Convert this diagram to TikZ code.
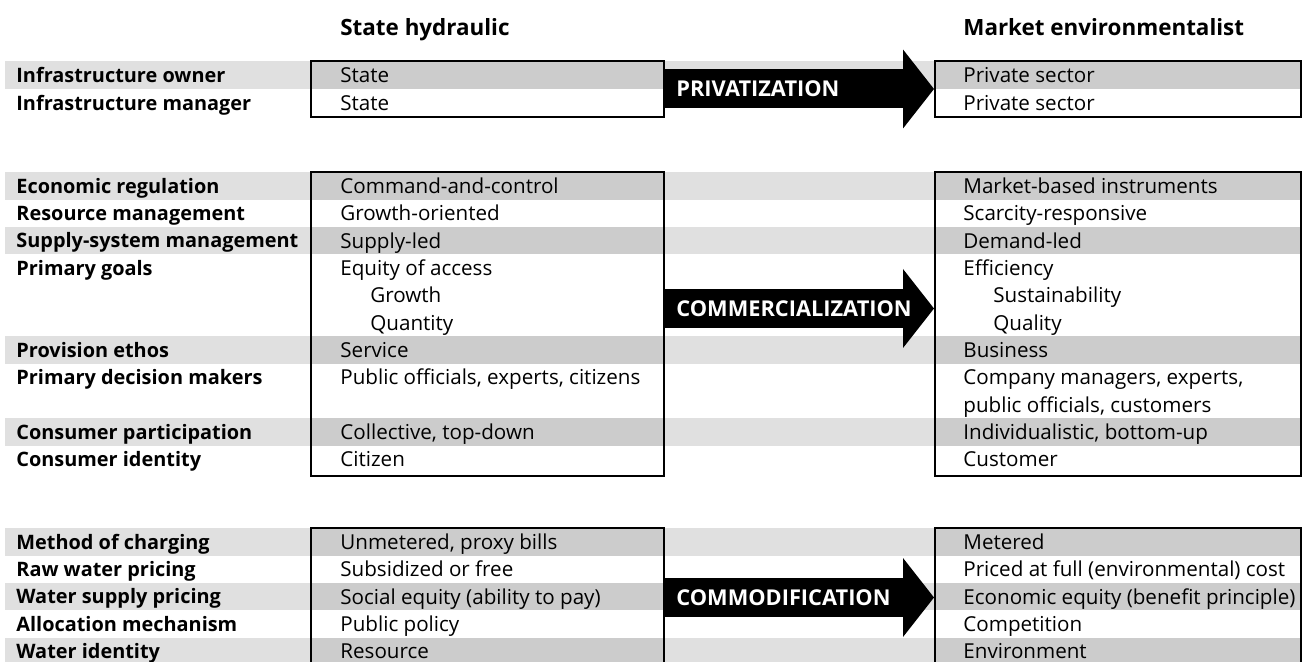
\documentclass[tikz,border=0pt]{standalone}
\usepackage{fontspec}
\setmainfont{Open Sans}
\usetikzlibrary{arrows.meta, fit, positioning}
\definecolor{bandlight}{gray}{0.88}
\definecolor{banddark}{gray}{0.80}
\tikzset{
  rowlbl/.style={anchor=west, inner sep=0pt, text height=7.1pt, text depth=0pt, font=\fontsize{9.95}{12}\selectfont\bfseries},
  cell/.style={anchor=west, inner sep=0pt, text height=7.35pt, text depth=0pt, font=\fontsize{10.3}{12}\selectfont},
  colhead/.style={anchor=west, inner sep=0pt, text height=8pt, text depth=0pt, font=\fontsize{11.2}{13}\selectfont\bfseries},
  tblbox/.style={draw, line width=1pt, inner sep=0pt},
  bigarrow/.style={line width=19.5pt, -{Triangle[line width=0pt, length=15.5pt, width=39.5pt]}},
  arrowlbl/.style={anchor=west, inner sep=0pt, text=white, text height=7.8pt, text depth=0pt, font=\fontsize{10.9}{12}\selectfont\bfseries}
}
\newcommand{\grayrow}[2]{%
  \fill[bandlight] (5,#1) rectangle (1301,#2);
  \fill[banddark] (311,#1) rectangle (664,#2);
  \fill[banddark] (935,#1) rectangle (1301,#2);}

\begin{document}
\begin{tikzpicture}[x=0.5pt, y=-0.5pt]
\useasboundingbox (0,0) rectangle (1306,662);

% shaded rows
\grayrow{61}{89}
\grayrow{172.3}{199.7}
\grayrow{227}{254.4}
\grayrow{336.4}{363.8}
\grayrow{418.5}{445.8}
\grayrow{528.3}{555.7}
\grayrow{583}{610.4}
\grayrow{637.7}{666}

% column heads
\node[colhead] (hstate) at (340,28) {State hydraulic};
\node[colhead] (hmarket) at (963,28) {Market environmentalist};

% boxes
\node[tblbox, fit={(311,61) (664,117)}] (sh1) {};
\node[tblbox, fit={(935,61) (1301,117)}] (me1) {};
\node[tblbox, fit={(311,172.3) (664,476)}] (sh2) {};
\node[tblbox, fit={(935,172.3) (1301,476)}] (me2) {};
\node[tblbox, fit={(311,528.3) (664,680)}] (sh3) {};
\node[tblbox, fit={(935,528.3) (1301,680)}] (me3) {};

% arrows
\coordinate (a1) at (0,89);
\coordinate (a2) at (0,308.5);
\coordinate (a3) at (0,597.5);
\draw[bigarrow] (sh1.east |- a1) -- (me1.west |- a1);
\draw[bigarrow] (sh2.east |- a2) -- (me2.west |- a2);
\draw[bigarrow] (sh3.east |- a3) -- (me3.west |- a3);
\node[arrowlbl] (priv) at ([xshift=5.5pt]sh1.east |- a1) {PRIVATIZATION};
\node[arrowlbl] (comm) at ([xshift=5.5pt]sh2.east |- a2) {COMMERCIALIZATION};
\node[arrowlbl] (cmod) at ([xshift=5.5pt]sh3.east |- a3) {COMMODIFICATION};

% ownership
\node[rowlbl] (lowner) at (16,75.5) {Infrastructure owner};
\node[rowlbl] (lmanager) at (16,103) {Infrastructure manager};
\node[cell] (showner) at (340,75.5) {State};
\node[cell] (shmanager) at (340,103) {State};
\node[cell] (meowner) at (963,75.5) {Private sector};
\node[cell] (memanager) at (963,103) {Private sector};

% management
\node[rowlbl] (lecon) at (16,186) {Economic regulation};
\node[rowlbl] (lres) at (16,213.35) {Resource management};
\node[rowlbl] (lsupply) at (16,240.7) {Supply-system management};
\node[rowlbl] (lgoals) at (16,268.05) {Primary goals};
\node[rowlbl] (lethos) at (16,350.1) {Provision ethos};
\node[rowlbl] (ldecision) at (16,377.45) {Primary decision makers};
\node[rowlbl] (lpart) at (16,432.15) {Consumer participation};
\node[rowlbl] (lident) at (16,459.5) {Consumer identity};

\node[cell] (shecon) at (340,186) {Command-and-control};
\node[cell] (shres) at (340,213.35) {Growth-oriented};
\node[cell] (shsupply) at (340,240.7) {Supply-led};
\node[cell] (shgoals) at (340,268.05) {Equity of access};
\node[cell] (shgoalb) at (370,295.4) {Growth};
\node[cell] (shgoalc) at (370,322.75) {Quantity};
\node[cell] (shethos) at (340,350.1) {Service};
\node[cell] (shdecision) at (340,377.45) {Public officials, experts, citizens};
\node[cell] (shpart) at (340,432.15) {Collective, top-down};
\node[cell] (shident) at (340,459.5) {Citizen};

\node[cell] (meecon) at (963,186) {Market-based instruments};
\node[cell] (meres) at (963,213.35) {Scarcity-responsive};
\node[cell] (mesupply) at (963,240.7) {Demand-led};
\node[cell] (megoals) at (963,268.05) {Efficiency};
\node[cell] (megoalb) at (993,295.4) {Sustainability};
\node[cell] (megoalc) at (993,322.75) {Quality};
\node[cell] (meethos) at (963,350.1) {Business};
\node[cell] (medecision) at (963,377.45) {Company managers, experts,};
\node[cell] (medecisionb) at (963,404.8) {public officials, customers};
\node[cell] (mepart) at (963,432.15) {Individualistic, bottom-up};
\node[cell] (meident) at (963,459.5) {Customer};

% pricing
\node[rowlbl] (lcharge) at (16,542) {Method of charging};
\node[rowlbl] (lraw) at (16,569.35) {Raw water pricing};
\node[rowlbl] (lwsp) at (16,596.7) {Water supply pricing};
\node[rowlbl] (lalloc) at (16,624.05) {Allocation mechanism};
\node[rowlbl] (lwater) at (16,651.4) {Water identity};

\node[cell] (shcharge) at (340,542) {Unmetered, proxy bills};
\node[cell] (shraw) at (340,569.35) {Subsidized or free};
\node[cell] (shwsp) at (340,596.7) {Social equity (ability to pay)};
\node[cell] (shalloc) at (340,624.05) {Public policy};
\node[cell] (shwater) at (340,651.4) {Resource};

\node[cell] (mecharge) at (963,542) {Metered};
\node[cell] (meraw) at (963,569.35) {Priced at full (environmental) cost};
\node[cell] (mewsp) at (963,596.7) {Economic equity (benefit principle)};
\node[cell] (mealloc) at (963,624.05) {Competition};
\node[cell] (mewater) at (963,651.4) {Environment};
\end{tikzpicture}
\end{document}
